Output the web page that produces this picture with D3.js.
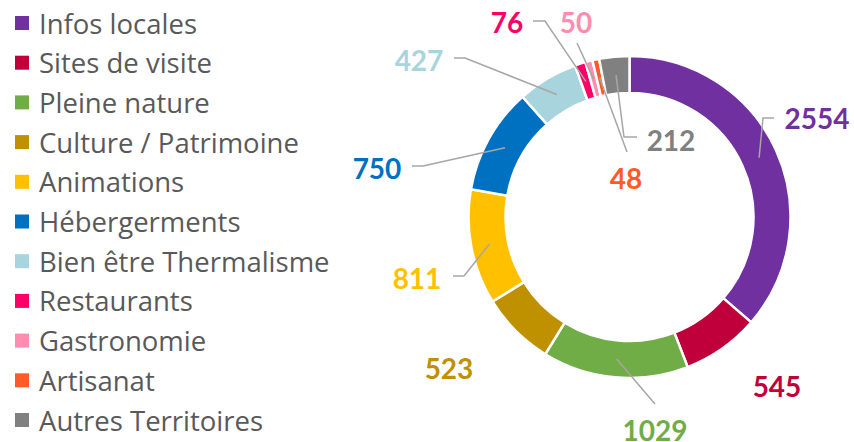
<!DOCTYPE html>
<html>
<head>
<meta charset="utf-8">
<script src="https://cdn.jsdelivr.net/npm/d3@7"></script>
<style>
  body { margin: 0; background: #fff; }
  svg { display: block; }
</style>
</head>
<body>
<div id="chart"></div>
<script>
// data
const categories = ["Infos locales", "Sites de visite", "Pleine nature", "Culture / Patrimoine",
    "Animations", "Hébergerments", "Bien être Thermalisme", "Restaurants",
    "Gastronomie", "Artisanat", "Autres Territoires"];
const values = [2554, 545, 1029, 523, 811, 750, 427, 76, 50, 48, 212];
const colors = ["#7030A0", "#C0003A", "#70AD47", "#BF9000", "#FFC000", "#0070C0",
    "#A8D5DD", "#FF0066", "#FF8DB0", "#FF5A27", "#808080"];

// label placement (layout, not data)
const labelPos = [[817, 118], [777, 386], [655, 430], [449, 368], [417, 278], [377, 168],
    [419, 60], [507, 22], [576, 22], [626, 178], [671, 140]];
const leaderBends = [
    [[763, 118], [774, 118]],
    null,
    [[655, 404]],
    null,
    [[464, 276], [453, 276]],
    [[423, 166], [412, 166]],
    [[465, 58], [454, 58]],
    [[545, 21], [533, 21]],
    [[577, 43]],
    [[627, 152]],
    [[624, 137], [637, 137]]
];

const width = 854, height = 442;
const cx = 629.5, cy = 217;
const outerR = 161, innerR = 124;

const svg = d3.select("#chart").append("svg")
    .attr("width", width)
    .attr("height", height);

// legend
const legend = svg.append("g").attr("class", "legend");
const rowY = d3.scalePoint().domain(categories).range([22, 419]);

const rows = legend.selectAll("g.row")
    .data(categories)
    .join("g")
    .attr("class", "row")
    .attr("transform", d => `translate(0, ${rowY(d)})`);

rows.append("rect")
    .attr("x", 15)
    .attr("y", -6)
    .attr("width", 14)
    .attr("height", 14)
    .attr("fill", (d, i) => colors[i]);

rows.append("text")
    .attr("x", 39)
    .attr("y", 1)
    .attr("dominant-baseline", "central")
    .style("font-family", "'Open Sans', Lato, sans-serif")
    .style("font-size", "27.5px")
    .attr("fill", "#595959")
    .text(d => d);

// donut
const pie = d3.pie().sort(null).value(d => d);
const arcs = pie(values);
const arc = d3.arc().innerRadius(innerR).outerRadius(outerR);

const donut = svg.append("g").attr("transform", `translate(${cx}, ${cy})`);

donut.selectAll("path")
    .data(arcs)
    .join("path")
    .attr("d", arc)
    .attr("fill", (d, i) => colors[i])
    .attr("stroke", "#fff")
    .attr("stroke-width", 2.5);

// leader lines
const line = d3.line();
const leaders = svg.append("g").attr("class", "leaders");
arcs.forEach((d, i) => {
    if (!leaderBends[i]) return;
    const c = arc.centroid(d);
    const pts = [[cx + c[0], cy + c[1]], ...leaderBends[i]];
    leaders.append("path")
        .attr("d", line(pts))
        .attr("fill", "none")
        .attr("stroke", "#A6A6A6")
        .attr("stroke-width", 1.5);
});

// value labels
svg.append("g").attr("class", "labels")
    .selectAll("text")
    .data(values)
    .join("text")
    .attr("x", (d, i) => labelPos[i][0])
    .attr("y", (d, i) => labelPos[i][1])
    .attr("text-anchor", "middle")
    .attr("dominant-baseline", "central")
    .style("font-family", "Lato, sans-serif")
    .style("font-weight", "700")
    .style("font-size", "28px")
    .attr("fill", (d, i) => colors[i])
    .text(d => d);
</script>
</body>
</html>
